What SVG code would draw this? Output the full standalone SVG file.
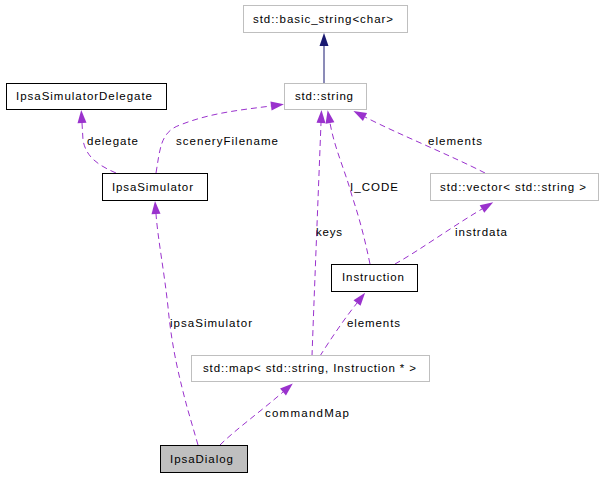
<svg xmlns="http://www.w3.org/2000/svg" width="603" height="477" viewBox="0 0 603 477">
<style>
.t{font-family:"Liberation Sans",Arial,sans-serif;font-size:11.5px;fill:#000}
.ext rect{fill:#fff;stroke:#bfbfbf;stroke-width:1}
.cls rect{fill:#fff;stroke:#000;stroke-width:1}
.cur rect{fill:#bfbfbf;stroke:#000;stroke-width:1}
.use{fill:none;stroke:#9a32cd;stroke-width:1;stroke-dasharray:6,4;marker-end:url(#ap)}
.inh{fill:none;stroke:#191970;stroke-width:1;marker-end:url(#an)}
</style>
<defs>
<marker id="ap" markerUnits="userSpaceOnUse" markerWidth="14" markerHeight="10" refX="0" refY="4.5" orient="auto" overflow="visible">
<path d="M0,0 L13,4.5 L0,9 z" fill="#9a32cd"/>
</marker>
<marker id="an" markerUnits="userSpaceOnUse" markerWidth="14" markerHeight="10" refX="0" refY="4.5" orient="auto" overflow="visible">
<path d="M0,0 L13,4.5 L0,9 z" fill="#191970"/>
</marker>
</defs>
<rect width="603" height="477" fill="#fff"/>
<g id="connectors">
<path class="inh" d="M324,83 L324,46"/>
<path class="use" d="M116,173 C100,166 86,158 83,140 L82,123"/>
<path class="use" d="M156,173 C160,150 160,132 180,125 C210,113 240,110 271,106"/>
<path class="use" d="M198,445 L187,407 C180,380 172,350 168,307 C164,270 158,240 156,214"/>
<path class="use" d="M220,445 C235,430 260,412 283,392"/>
<path class="use" d="M312,356 C314,300 318,200 321,123"/>
<path class="use" d="M370,264 C365,240 360,220 352,196 C345,170 335,150 330,123"/>
<path class="use" d="M395,264 C420,250 450,228 482,209"/>
<path class="use" d="M485,173 C450,155 400,135 365,117"/>
<path class="use" d="M320,356 C330,340 345,318 357,303"/>
<text class="t" x="87" y="145" textLength="51" lengthAdjust="spacing">delegate</text>
<text class="t" x="176" y="145" textLength="102" lengthAdjust="spacing">sceneryFilename</text>
<text class="t" x="428" y="145" textLength="54" lengthAdjust="spacing">elements</text>
<text class="t" x="350" y="191" textLength="48" lengthAdjust="spacing">I_CODE</text>
<text class="t" x="316" y="236" textLength="26" lengthAdjust="spacing">keys</text>
<text class="t" x="455" y="236" textLength="52" lengthAdjust="spacing">instrdata</text>
<text class="t" x="347" y="327" textLength="53" lengthAdjust="spacing">elements</text>
<text class="t" x="170" y="327" textLength="82" lengthAdjust="spacing">ipsaSimulator</text>
<text class="t" x="265" y="417" textLength="84" lengthAdjust="spacing">commandMap</text>
</g>
<g id="basic_string" class="ext">
<rect x="243.5" y="5.5" width="164" height="27"/>
<text class="t" x="253" y="23" textLength="140" lengthAdjust="spacing">std::basic_string&lt;char&gt;</text>
</g>
<g id="std_string" class="ext">
<rect x="284.5" y="83.5" width="82" height="26"/>
<text class="t" x="295" y="100" textLength="58" lengthAdjust="spacing">std::string</text>
</g>
<g id="IpsaSimulatorDelegate" class="cls">
<rect x="6.5" y="83.5" width="160" height="26"/>
<text class="t" x="16" y="100" textLength="136" lengthAdjust="spacing">IpsaSimulatorDelegate</text>
</g>
<g id="IpsaSimulator" class="cls">
<rect x="102.5" y="173.5" width="105" height="27"/>
<text class="t" x="112" y="191" textLength="81" lengthAdjust="spacing">IpsaSimulator</text>
</g>
<g id="std_vector" class="ext">
<rect x="430.5" y="173.5" width="168" height="27"/>
<text class="t" x="440" y="191" textLength="146" lengthAdjust="spacing">std::vector&lt; std::string &gt;</text>
</g>
<g id="Instruction" class="cls">
<rect x="331.5" y="264.5" width="86" height="27"/>
<text class="t" x="342" y="281" textLength="62" lengthAdjust="spacing">Instruction</text>
</g>
<g id="std_map" class="ext">
<rect x="191.5" y="355.5" width="238" height="26"/>
<text class="t" x="203" y="372" textLength="213" lengthAdjust="spacing">std::map&lt; std::string, Instruction * &gt;</text>
</g>
<g id="IpsaDialog" class="cur">
<rect x="160.5" y="445.5" width="87" height="27"/>
<text class="t" x="170" y="463" textLength="63" lengthAdjust="spacing">IpsaDialog</text>
</g>
</svg>
